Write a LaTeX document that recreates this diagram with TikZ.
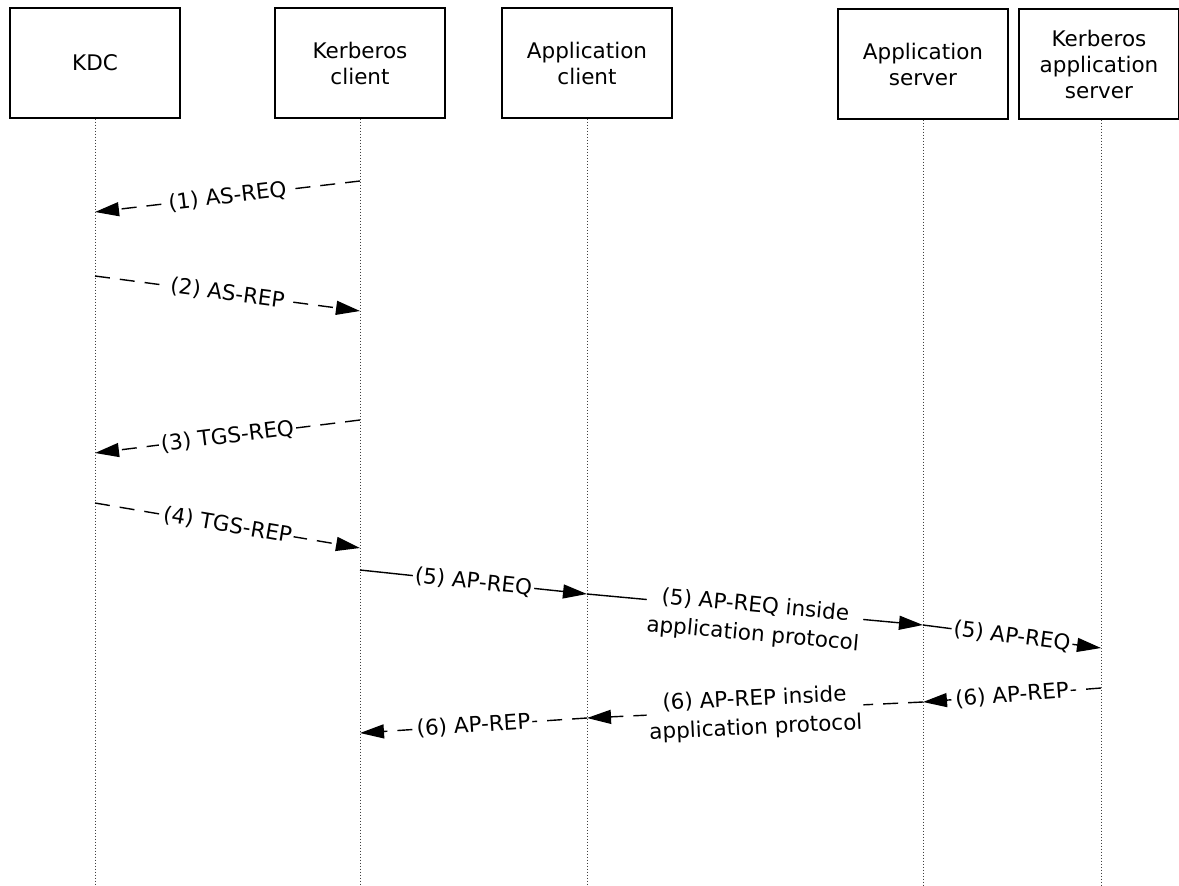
\documentclass[tikz,border=0pt]{standalone}
\usepackage{fontspec}
\setmainfont{DejaVu Sans}
\usetikzlibrary{arrows.meta}
\begin{document}
\begin{tikzpicture}[x=1pt,y=-1pt,
  actor/.style={draw,line width=1.3pt,minimum height=110pt,align=center,font=\fontsize{21.5}{26}\selectfont,inner sep=0pt},
  life/.style={line width=1pt,dash pattern=on 1.5pt off 1.5pt,black!75},
  msg/.style={line width=1.4pt,-{Triangle[length=24pt,width=14pt]}},
  rmsg/.style={msg,dash pattern=on 15pt off 10pt},
  lbl/.style={fill=white,sloped,font=\fontsize{21.5}{29}\selectfont,inner sep=2pt,align=center}]
\useasboundingbox (0,0) rectangle (1179,886);
% actors
\node[actor,minimum width=170pt] (kdc) at (95,63) {KDC};
\node[actor,minimum width=170pt] (kc) at (360,63) {Kerberos\\client};
\node[actor,minimum width=170pt] (ac) at (587,63) {Application\\client};
\node[actor,minimum width=170pt] (as) at (923,64) {Application\\server};
\node[actor,minimum width=160pt] (kas) at (1099,64) {Kerberos\\application\\server};
% lifeline ends
\coordinate (kdcE) at (95,886);
\coordinate (kcE) at (360,886);
\coordinate (acE) at (587,886);
\coordinate (asE) at (923,886);
\coordinate (kasE) at (1101,886);
\draw[life] (kdc.south) -- (kdcE);
\draw[life] (kc.south) -- (kcE);
\draw[life] (ac.south) -- (acE);
\draw[life] (as.south) -- (asE);
\draw[life] (kas.south -| kasE) -- (kasE);
% message points
\coordinate (m1a) at (360,181); \coordinate (m1b) at (95,212);
\coordinate (m2a) at (95,276);  \coordinate (m2b) at (360,311);
\coordinate (m3a) at (360,420); \coordinate (m3b) at (95,453);
\coordinate (m4a) at (95,503);  \coordinate (m4b) at (360,548);
\coordinate (m5a) at (360,570); \coordinate (m5b) at (587,594);
\coordinate (m5c) at (923,625); \coordinate (m5d) at (1101,648);
\coordinate (m6a) at (1101,688); \coordinate (m6b) at (923,702);
\coordinate (m6c) at (587,718); \coordinate (m6d) at (360,733);
% messages
\draw[rmsg] (m1a) -- node[lbl] {(1) AS-REQ} (m1b);
\draw[rmsg] (m2a) -- node[lbl] {(2) AS-REP} (m2b);
\draw[rmsg] (m3a) -- node[lbl] {(3) TGS-REQ} (m3b);
\draw[rmsg] (m4a) -- node[lbl] {(4) TGS-REP} (m4b);
\draw[msg] (m5a) -- node[lbl] {(5) AP-REQ} (m5b);
\draw[msg] (m5b) -- node[lbl,yshift=-11pt] {(5) AP-REQ inside\\application protocol} (m5c);
\draw[msg] (m5c) -- node[lbl] {(5) AP-REQ} (m5d);
\draw[rmsg] (m6a) -- node[lbl] {(6) AP-REP} (m6b);
\draw[rmsg] (m6b) -- node[lbl,yshift=-4pt] {(6) AP-REP inside\\application protocol} (m6c);
\draw[rmsg] (m6c) -- node[lbl] {(6) AP-REP} (m6d);
\end{tikzpicture}
\end{document}
